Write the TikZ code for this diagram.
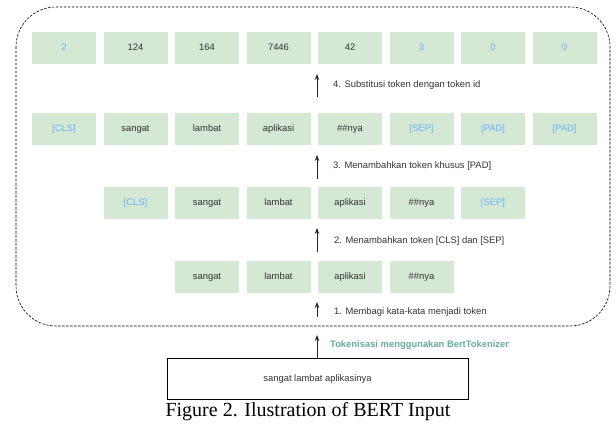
\documentclass[tikz,border=0pt]{standalone}
\usepackage{fontspec}
\setmainfont{Liberation Sans}
\newfontfamily\capfont{Liberation Serif}
\usetikzlibrary{arrows.meta}
\definecolor{boxgreen}{HTML}{D5E8D4}
\definecolor{tokblue}{HTML}{66B2FF}
\definecolor{txtgray}{HTML}{333333}
\definecolor{tealgreen}{HTML}{67AB9F}
\begin{document}
\begin{tikzpicture}[x=1pt,y=-1pt,
  tok/.style={fill=boxgreen, minimum width=64pt, minimum height=32pt, inner sep=0pt,
    text height=7pt, text depth=2pt,
    font=\fontsize{9.4}{11}\selectfont, text=txtgray},
  sptok/.style={tok, text=tokblue},
  lbl/.style={anchor=west, inner sep=0pt, text height=7pt, text depth=2pt,
    font=\fontsize{9.4}{11}\selectfont, text=txtgray},
  arr/.style={-{Stealth[length=6pt,width=4.5pt]}, line width=0.8pt, draw=black!85}]
\useasboundingbox (0,0) rectangle (616,425);

% dashed container
\draw[dash pattern=on 2.5pt off 1.5pt, line width=0.6pt, rounded corners=40pt] (16,7) rectangle (610,326);

% row 1: ids
\node[sptok] (a1) at (64,48) {2};
\node[tok]   (a2) at (135.5,48) {124};
\node[tok]   (a3) at (207,48) {164};
\node[tok]   (a4) at (278.5,48) {7446};
\node[tok]   (a5) at (350,48) {42};
\node[sptok] (a6) at (421.5,48) {3};
\node[sptok] (a7) at (493,48) {0};
\node[sptok] (a8) at (564.5,48) {0};

% row 2: with PAD
\node[sptok] (b1) at (64,129.5) {[CLS]};
\node[tok]   (b2) at (135.5,129.5) {sangat};
\node[tok]   (b3) at (207,129.5) {lambat};
\node[tok]   (b4) at (278.5,129.5) {aplikasi};
\node[tok]   (b5) at (350,129.5) {\#\#nya};
\node[sptok] (b6) at (421.5,129.5) {[SEP]};
\node[sptok] (b7) at (493,129.5) {[PAD]};
\node[sptok] (b8) at (564.5,129.5) {[PAD]};

% row 3: with CLS/SEP
\node[sptok] (c1) at (135.5,203) {[CLS]};
\node[tok]   (c2) at (207,203) {sangat};
\node[tok]   (c3) at (278.5,203) {lambat};
\node[tok]   (c4) at (350,203) {aplikasi};
\node[tok]   (c5) at (421.5,203) {\#\#nya};
\node[sptok] (c6) at (493,203) {[SEP]};

% row 4: tokens
\node[tok] (d1) at (207,277) {sangat};
\node[tok] (d2) at (278.5,277) {lambat};
\node[tok] (d3) at (350,277) {aplikasi};
\node[tok] (d4) at (421.5,277) {\#\#nya};

% input
\node[draw=black, line width=0.6pt, fill=white, minimum width=301pt, minimum height=41pt,
  inner sep=0pt, text height=7pt, text depth=2pt,
  font=\fontsize{9.4}{11}\selectfont, text=txtgray] (inp) at (317.5,378.5)
  {sangat lambat aplikasinya};

% arrows
\coordinate (s4) at (317,97);  \coordinate (e4) at (317,74);
\coordinate (s3) at (317,179); \coordinate (e3) at (317,155);
\coordinate (s2) at (317,252); \coordinate (e2) at (317,228);
\coordinate (s1) at (317,317); \coordinate (e1) at (317,302);
\coordinate (e0) at (317,335);
\draw[arr] (s4) -- (e4);
\draw[arr] (s3) -- (e3);
\draw[arr] (s2) -- (e2);
\draw[arr] (s1) -- (e1);
\draw[arr] (inp.north -| e0) -- (e0);

% labels
\node[lbl] (l4) at (333,85) {4. Substitusi token dengan token id};
\node[lbl] (l3) at (333,166) {3. Menambahkan token khusus [PAD]};
\node[lbl] (l2) at (334,241) {2. Menambahkan token [CLS] dan [SEP]};
\node[lbl] (l1) at (334,312) {1. Membagi kata-kata menjadi token};
\node[lbl, text=tealgreen, font=\fontsize{9.4}{11}\selectfont\bfseries] (l0) at (330,345)
  {Tokenisasi menggunakan BertTokenizer};

% caption
\node[inner sep=0pt, font=\capfont\fontsize{20}{22}\selectfont] (cap) at (308,412)
  {Figure 2. Ilustration of BERT Input};
\end{tikzpicture}
\end{document}
